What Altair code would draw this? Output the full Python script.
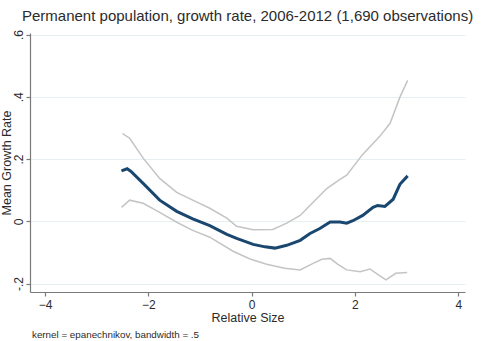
import altair as alt
import pandas as pd

# Local mean smoother of growth rate on relative size, with 95% band
mean_x = [-2.52, -2.41, -2.34, -2.10, -1.78, -1.45, -1.14, -0.81, -0.48, -0.29,
          0.03, 0.26, 0.45, 0.68, 0.94, 1.13, 1.32, 1.52, 1.71, 1.84, 1.96,
          2.15, 2.35, 2.44, 2.58, 2.74, 2.87, 3.02]
mean_y = [0.162, 0.169, 0.161, 0.122, 0.068, 0.032, 0.008, -0.014, -0.042, -0.055,
          -0.074, -0.082, -0.086, -0.077, -0.061, -0.039, -0.023, -0.002, -0.002,
          -0.006, 0.002, 0.019, 0.045, 0.051, 0.048, 0.071, 0.119, 0.146]

upper_x = [-2.50, -2.36, -2.10, -1.78, -1.45, -1.14, -0.81, -0.48, -0.29, 0.03,
           0.41, 0.68, 0.94, 1.19, 1.46, 1.71, 1.84, 2.15, 2.48, 2.68, 2.87, 3.02]
upper_y = [0.282, 0.267, 0.203, 0.138, 0.093, 0.068, 0.042, 0.010, -0.016, -0.027,
           -0.026, -0.006, 0.019, 0.061, 0.106, 0.135, 0.148, 0.215, 0.273, 0.315,
           0.399, 0.453]

lower_x = [-2.52, -2.36, -2.10, -1.78, -1.45, -1.14, -0.81, -0.36, -0.03, 0.29,
           0.64, 0.94, 1.19, 1.36, 1.52, 1.67, 1.84, 2.10, 2.29, 2.44, 2.60, 2.79, 3.01]
lower_y = [0.045, 0.068, 0.058, 0.029, -0.003, -0.029, -0.051, -0.096, -0.121, -0.138,
           -0.151, -0.156, -0.135, -0.122, -0.119, -0.138, -0.156, -0.162, -0.153,
           -0.170, -0.188, -0.167, -0.164]

x_ticks = [-4, -2, 0, 2, 4]
y_ticks = [-0.2, 0, 0.2, 0.4, 0.6]

title_text = "Permanent population, growth rate, 2006-2012 (1,690 observations)"
note_text = "kernel = epanechnikov, bandwidth = .5"

band = pd.concat([
    pd.DataFrame({"x": upper_x, "y": upper_y, "s": "upper"}),
    pd.DataFrame({"x": lower_x, "y": lower_y, "s": "lower"}),
])
mean = pd.DataFrame({"x": mean_x, "y": mean_y})

FONT = "Liberation Sans"
TXT = "#2b2b2b"

x_enc = alt.X(
    "x:Q",
    scale=alt.Scale(domain=[-4.29, 4.13], nice=False, zero=False),
    axis=alt.Axis(
        values=x_ticks, grid=False, title="Relative Size",
        titleFontWeight="normal", titleFontSize=12.5, titleColor=TXT,
        titleY=29.5, titleBaseline="alphabetic",
        labelFontSize=12, labelColor=TXT, labelPadding=3, tickSize=4,
    ),
)
y_enc = alt.Y(
    "y:Q",
    scale=alt.Scale(domain=[-0.227, 0.605], nice=False, zero=False),
    axis=alt.Axis(
        values=y_ticks, grid=True, gridColor="#e6eff1", gridWidth=1,
        labelExpr="datum.value == 0 ? '0' : replace(replace(format(datum.value, '.1f'), '0.', '.'), '\u2212', '-')",
        labelAngle=270, labelAlign="center", labelBaseline="bottom",
        labelFontSize=12, labelColor=TXT, labelPadding=1, tickSize=4,
        title="Mean Growth Rate", titleFontWeight="normal", titleFontSize=12.5,
        titleColor=TXT, titleAngle=270, titleX=-20, titleY=129.5,
        titleAlign="center", titleBaseline="alphabetic",
    ),
)

ci = alt.Chart(band).mark_line(color="#c4c4c4", strokeWidth=1.5).encode(
    x=x_enc, y=y_enc, detail="s:N"
)
fit = alt.Chart(mean).mark_line(color="#1a476f", strokeWidth=3).encode(
    x="x:Q", y="y:Q"
)

head = alt.Chart(pd.DataFrame({"t": [title_text]})).mark_text(
    align="left", baseline="alphabetic", font=FONT, fontSize=15, color=TXT
).encode(x=alt.value(-8), y=alt.value(-12), text="t:N")

note = alt.Chart(pd.DataFrame({"t": [note_text]})).mark_text(
    align="left", baseline="alphabetic", font=FONT, fontSize=9.8, color=TXT
).encode(x=alt.value(2), y=alt.value(304.5), text="t:N")

chart = alt.layer(ci, fit, head, note).properties(
    width=435, height=259,
    autosize=alt.AutoSizeParams(type="none"),
    padding={"left": 30, "top": 33, "right": 30, "bottom": 49},
    background="white",
).configure_view(stroke=None).configure_axis(
    labelFont=FONT, titleFont=FONT, domainColor="#7a7a7a", tickColor="#7a7a7a",
    domainWidth=1.2, tickWidth=1.2,
)

chart.save("out.html", embed_options={"renderer": "svg", "actions": False})
